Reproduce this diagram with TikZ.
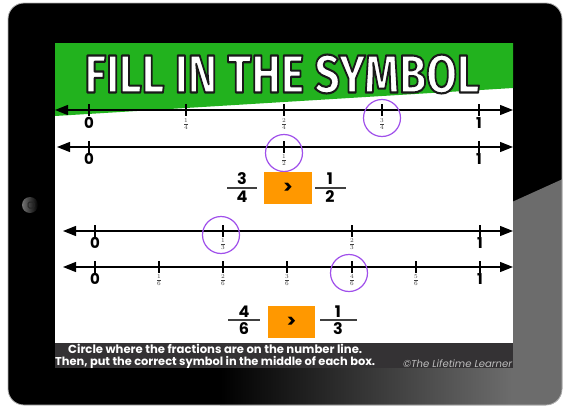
\documentclass[tikz,border=0pt]{standalone}
\usepackage{fontspec}
\setmainfont{Poppins}
\newfontfamily\titlefont{Fira Sans}
\usetikzlibrary{arrows.meta}
\definecolor{hdrgreen}{RGB}{34,178,30}
\definecolor{boxorange}{RGB}{255,152,0}
\definecolor{ringpurple}{RGB}{160,80,235}
\definecolor{bannergray}{RGB}{52,50,52}
\definecolor{glossgray}{RGB}{108,108,108}
\newcommand{\outlinedtext}[1]{{\color{white}\special{pdf:code 2 Tr 2.2 w 0.1 0.1 0.1 RG 1 j}#1\special{pdf:code 0 Tr}}}
\begin{document}
\begin{tikzpicture}[x=1pt,y=-1pt,
  numline/.style={line width=1.3pt, {Triangle[length=13pt,width=10pt]}-{Triangle[length=13pt,width=10pt]}},
  tickmark/.style={line width=1.5pt},
  zerolab/.style={font=\bfseries\fontsize{15}{15}\selectfont, inner sep=0},
  fraclab/.style={font=\fontsize{9}{9}\selectfont, text=black!75, inner sep=0},
  ring/.style={draw=ringpurple, line width=1.2pt, circle, minimum size=37pt, inner sep=0},
  bigdigit/.style={font=\bfseries\fontsize{16}{16}\selectfont, inner sep=0},
  fracbar/.style={line width=1.3pt, black!75},
  symbox/.style={fill=boxorange, inner sep=0, font=\bfseries\fontsize{18}{18}\selectfont},
  bantext/.style={anchor=west, text=white, inner sep=0, font=\bfseries},
]
\useasboundingbox (0,0) rectangle (565,407);
% tablet body
\fill[black, rounded corners=16pt] (8,3) rectangle (562,405);
\begin{scope}
  \clip[rounded corners=16pt] (8,3) rectangle (562,405);
  \fill[glossgray] (512,202) -- (565,178) -- (565,407) -- (512,407) -- cycle;
  \shade[left color=black, right color=glossgray] (220,368) rectangle (512,407);
\end{scope}
\draw[black!30, line width=0.8pt, rounded corners=16pt] (8,3) rectangle (562,405);
% home button
\shade[left color=black!55, right color=black] (30,205) circle (8pt);
\node[draw=black!85, line width=1pt, rounded corners=1.5pt, minimum size=6pt, inner sep=0] (home) at (31,205) {};
% screen
\fill[white] (55,43) rectangle (513,368);
\fill[hdrgreen] (55,43) -- (513,43) -- (513,88) -- (55,116) -- cycle;
\node[inner sep=0] (title) at (282,74) {\resizebox{395pt}{38pt}{\titlefont\bfseries\fontsize{55}{55}\selectfont\outlinedtext{FILL IN THE SYMBOL}}};

% number line 1 (quarters)
\coordinate (a1) at (55,110); \coordinate (b1) at (513,110);
\draw[numline] (a1) -- (b1);
\foreach \x [count=\i] in {89,186,284,382,479}{
  \coordinate (t1-\i) at (\x,110);
  \draw[tickmark] ([yshift=6pt]t1-\i) -- ([yshift=-6pt]t1-\i);
}
\node[zerolab] (l1z) at (89,123) {0};
\node[fraclab] (l1a) at (186,124) {$\frac{1}{4}$};
\node[fraclab] (l1b) at (284,124) {$\frac{2}{4}$};
\node[fraclab] (l1c) at (382,124) {$\frac{3}{4}$};
\node[zerolab] (l1o) at (479,123) {1};
\node[ring] (r1) at (382,118) {};

% number line 2 (halves)
\coordinate (a2) at (57,147); \coordinate (b2) at (513,147);
\draw[numline] (a2) -- (b2);
\foreach \x [count=\i] in {89,284,479}{
  \coordinate (t2-\i) at (\x,147);
  \draw[tickmark] ([yshift=6pt]t2-\i) -- ([yshift=-6pt]t2-\i);
}
\node[zerolab] (l2z) at (89,159) {0};
\node[fraclab] (l2a) at (284,160) {$\frac{1}{2}$};
\node[zerolab] (l2o) at (479,159) {1};
\node[ring] (r2) at (284,153) {};

% comparison 1
\node[bigdigit] (n1) at (242,179) {3};
\node[bigdigit] (d1) at (242,197) {4};
\draw[fracbar] (227,188) -- (257,188);
\node[symbox, minimum width=48pt, minimum height=32pt] (box1) at (288,188) {>};
\node[bigdigit] (n2) at (330,179) {1};
\node[bigdigit] (d2) at (330,197) {2};
\draw[fracbar] (315,188) -- (346,188);

% number line 3 (thirds)
\coordinate (a3) at (63,231); \coordinate (b3) at (513,231);
\draw[numline] (a3) -- (b3);
\foreach \x [count=\i] in {95,223,352,480}{
  \coordinate (t3-\i) at (\x,231);
  \draw[tickmark] ([yshift=6pt]t3-\i) -- ([yshift=-6pt]t3-\i);
}
\node[zerolab] (l3z) at (95,243) {0};
\node[fraclab] (l3a) at (223,244) {$\frac{1}{3}$};
\node[fraclab] (l3b) at (352,244) {$\frac{2}{3}$};
\node[zerolab] (l3o) at (480,243) {1};
\node[ring] (r3) at (221,235) {};

% number line 4 (sixths)
\coordinate (a4) at (63,267); \coordinate (b4) at (513,267);
\draw[numline] (a4) -- (b4);
\foreach \x [count=\i] in {95,159,223,287,352,416,480}{
  \coordinate (t4-\i) at (\x,267);
  \draw[tickmark] ([yshift=6pt]t4-\i) -- ([yshift=-6pt]t4-\i);
}
\node[zerolab] (l4z) at (95,279) {0};
\node[fraclab] (l4a) at (159,280) {$\frac{1}{6}$};
\node[fraclab] (l4b) at (223,280) {$\frac{2}{6}$};
\node[fraclab] (l4c) at (287,280) {$\frac{3}{6}$};
\node[fraclab] (l4d) at (352,280) {$\frac{4}{6}$};
\node[fraclab] (l4e) at (416,280) {$\frac{5}{6}$};
\node[zerolab] (l4o) at (480,279) {1};
\node[ring] (r4) at (349,273) {};

% comparison 2
\node[bigdigit] (n3) at (244,312) {4};
\node[bigdigit] (d3) at (244,329) {6};
\draw[fracbar] (228,320) -- (260,320);
\node[symbox, minimum width=47pt, minimum height=32pt] (box2) at (291.5,322) {>};
\node[bigdigit] (n4) at (338,312) {1};
\node[bigdigit] (d4) at (338,329) {3};
\draw[fracbar] (320,320) -- (357,320);

% instruction banner
\fill[bannergray] (55,343) rectangle (513,368);
\node[bantext] (ins1) at (68,349) {\resizebox{294pt}{!}{Circle where the fractions are on the number line.}};
\node[bantext] (ins2) at (55,362) {\resizebox{320pt}{!}{Then, put the correct symbol in the middle of each box.}};
\node[anchor=west, inner sep=0, text=black!25, font=\itshape] (copy) at (403,364) {\resizebox{109pt}{!}{\textcopyright The Lifetime Learner}};
\end{tikzpicture}
\end{document}
